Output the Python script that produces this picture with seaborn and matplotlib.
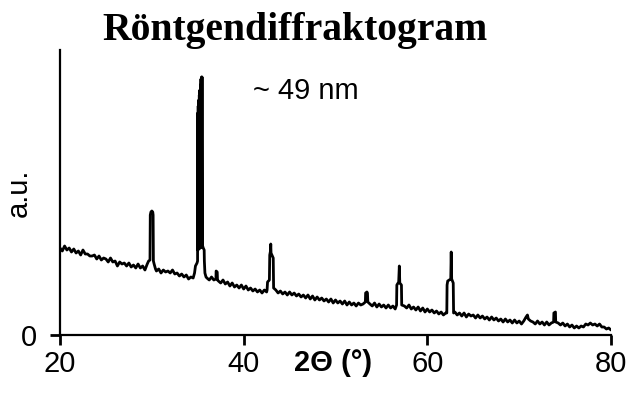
import matplotlib
matplotlib.use("Agg")
import matplotlib.pyplot as plt
import pandas as pd
import seaborn as sns

# X-ray diffraction scan: diffraction angle 2θ (°) and intensity (a.u.)
two_theta = [
    20.00, 20.25, 20.50, 20.75, 21.00, 21.25, 21.50, 21.75, 22.00, 22.25,
    22.50, 22.75, 23.00, 23.25, 23.50, 23.75, 24.00, 24.25, 24.50, 24.75,
    25.00, 25.25, 25.50, 25.75, 26.00, 26.25, 26.50, 26.75, 27.00, 27.25,
    27.50, 27.75, 28.00, 28.25, 28.50, 28.75, 29.00, 29.25, 29.50, 29.65,
    29.80, 29.83, 29.90, 30.00, 30.10, 30.14, 30.17, 30.25, 30.40,
    30.50, 30.75, 31.00, 31.25, 31.50, 31.75, 32.00, 32.25, 32.50, 32.75,
    33.00, 33.25, 33.50, 33.75, 34.00, 34.25, 34.50,
    34.65, 34.75, 34.92, 34.98, 35.00, 35.02, 35.05, 35.08, 35.11, 35.14,
    35.17, 35.20, 35.23, 35.26, 35.29, 35.32, 35.35, 35.38, 35.41, 35.44,
    35.47, 35.50, 35.60, 35.70, 35.72, 35.78, 35.90,
    36.00, 36.25, 36.50, 36.75, 36.98, 37.00, 37.12, 37.15, 37.25, 37.50,
    37.75, 38.00, 38.25, 38.50, 38.75, 39.00, 39.25, 39.50, 39.75, 40.00,
    40.25, 40.50, 40.75, 41.00, 41.25, 41.50, 41.75, 42.00, 42.25, 42.50,
    42.55, 42.60, 42.80, 42.84, 42.92, 42.95, 42.98, 43.22, 43.26,
    43.50, 43.75, 44.00, 44.25, 44.50, 44.75, 45.00, 45.25, 45.50, 45.75,
    46.00, 46.25, 46.50, 46.75, 47.00, 47.25, 47.50, 47.75, 48.00, 48.25,
    48.50, 48.75, 49.00, 49.25, 49.50, 49.75, 50.00, 50.25, 50.50, 50.75,
    51.00, 51.25, 51.50, 51.75, 52.00, 52.25, 52.50, 52.75, 53.00,
    53.25, 53.28, 53.42, 53.48, 53.52,
    53.75, 54.00, 54.25, 54.50, 54.75, 55.00, 55.25, 55.50, 55.75, 56.00,
    56.25, 56.50,
    56.65, 56.68, 56.88, 56.95, 57.00, 57.18, 57.21,
    57.50, 57.75, 58.00, 58.25, 58.50, 58.75, 59.00, 59.25, 59.50, 59.75,
    60.00, 60.25, 60.50, 60.75, 61.00, 61.25, 61.50, 61.75, 62.00,
    62.12, 62.15, 62.22, 62.55, 62.60, 62.65, 62.82, 62.86,
    63.00, 63.25, 63.50, 63.75, 64.00, 64.25, 64.50, 64.75, 65.00, 65.25,
    65.50, 65.75, 66.00, 66.25, 66.50, 66.75, 67.00, 67.25, 67.50, 67.75,
    68.00, 68.25, 68.50, 68.75, 69.00, 69.25, 69.50, 69.75, 70.00, 70.25,
    70.50, 70.75, 70.90, 71.00, 71.25, 71.50, 71.75, 72.00, 72.25, 72.50,
    72.75, 73.00, 73.25, 73.50,
    73.75, 73.78, 73.95, 73.98,
    74.25, 74.50, 74.75, 75.00, 75.25, 75.50, 75.75, 76.00, 76.25, 76.50,
    76.75, 77.00, 77.25, 77.50, 77.75, 78.00, 78.25, 78.50, 78.75, 79.00,
    79.25, 79.50, 79.75, 80.00,
]
intensity = [
    87, 84, 89, 85, 87, 83, 86, 82, 84, 80,
    85, 81, 81, 79, 79, 80, 76, 79, 75, 77,
    76, 73, 77, 73, 74, 69, 73, 71, 72, 69,
    72, 68, 70, 67, 71, 67, 69, 65, 71, 74,
    75, 120, 123, 124, 123, 120, 74, 71, 66,
    64, 66, 62, 65, 63, 64, 62, 65, 61, 62,
    59, 61, 58, 60, 56, 58, 57,
    62, 69, 72, 74, 222, 85, 229, 86, 235, 86,
    240, 87, 245, 87, 250, 88, 256, 88, 258, 88,
    258, 90, 87, 85, 74, 62, 58,
    57, 55, 58, 55, 56, 64, 63, 55, 54, 52,
    55, 51, 53, 49, 52, 48, 50, 47, 50, 46,
    49, 45, 47, 44, 46, 43, 45, 42, 45, 43,
    45, 53, 55, 80, 84, 91, 82, 77, 47,
    45, 42, 44, 41, 43, 40, 43, 40, 42, 39,
    41, 38, 40, 37, 40, 36, 39, 35, 38, 35,
    37, 34, 36, 33, 36, 32, 35, 32, 34, 31,
    34, 30, 33, 30, 32, 29, 32, 30, 31,
    33, 42, 43, 42, 33,
    31, 29, 32, 28, 31, 28, 30, 27, 30, 27,
    29, 26,
    30, 50, 53, 69, 52, 50, 30,
    29, 27, 30, 26, 28, 25, 28, 24, 27, 23,
    26, 23, 25, 22, 24, 21, 23, 20, 22,
    22, 50, 54, 56, 83, 56, 52, 22,
    23, 20, 22, 19, 22, 18, 21, 19, 20, 17,
    20, 17, 19, 16, 18, 15, 18, 15, 17, 14,
    16, 13, 16, 13, 15, 12, 15, 12, 14, 11,
    14, 18, 20, 16, 14, 13, 11, 14, 11, 13,
    10, 13, 10, 12,
    13, 22, 23, 13,
    12, 10, 12, 9, 11, 8, 10, 7, 9, 7,
    9, 8, 11, 10, 12, 10, 11, 9, 11, 8,
    8, 6, 7, 5,
]

chart_title = "Röntgendiffraktogram"
size_note = "~ 49 nm"
x_label = "2Θ (°)"
y_label = "a.u."
x_ticks = [20, 40, 60, 80]
y_ticks = [0]

sns.set_theme(style="ticks")
plt.rcParams.update({
    "font.family": ["Liberation Sans", "DejaVu Sans"],
    "text.color": "black",
    "axes.labelcolor": "black",
})

scan = pd.DataFrame({"two_theta": two_theta, "intensity": intensity})

W, H = 627, 397
fig = plt.figure(figsize=(W / 100, H / 100), dpi=100)
ax = fig.add_axes([60 / W, 1 - 335 / H, (611 - 60) / W, (335 - 50) / H])

sns.lineplot(data=scan, x="two_theta", y="intensity", ax=ax,
             color="black", linewidth=2.0, estimator=None, sort=False)

ax.set_xlim(20, 80)
ax.set_ylim(0, 285)
ax.set_xticks(x_ticks)
ax.set_yticks(y_ticks)

for side in ("top", "right"):
    ax.spines[side].set_visible(False)
for side in ("left", "bottom"):
    ax.spines[side].set_color("black")
    ax.spines[side].set_linewidth(1.6)

ax.tick_params(axis="both", direction="out", length=7.5, width=2,
               color="black", labelsize=21, labelcolor="black")
ax.tick_params(axis="x", pad=3)
ax.tick_params(axis="y", pad=9)

ax.set_xlabel(x_label, fontsize=21, fontweight="bold", color="black")
ax.xaxis.set_label_coords(0.495, -0.049)
ax.set_ylabel(y_label, fontsize=21, color="black")
ax.yaxis.set_label_coords(-0.05, 0.5)

fig.text(295 / W, 1 - 40 / H, chart_title, ha="center", va="baseline",
         fontsize=28.5, fontweight="bold", family=["Liberation Serif"],
         color="black")
fig.text(253 / W, 1 - 99 / H, size_note, ha="left", va="baseline",
         fontsize=21, color="black")

fig.savefig("out.png", dpi=100, facecolor="white")
